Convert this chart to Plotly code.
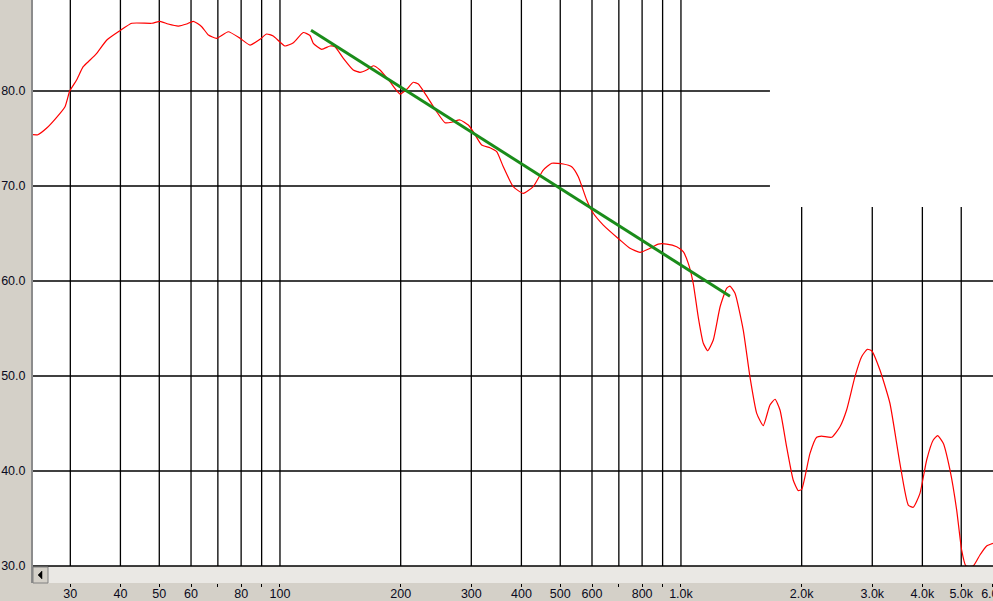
import plotly.graph_objects as go

# ---- data ----
freq = [24.2, 24.9, 26.2, 27.7, 29.1, 29.9, 31.1, 32.3, 33.6, 34.9,
        37.0, 39.9, 42.7, 47.9, 50.2, 52.6, 55.8, 58.5, 60.8, 63.8,
        66.3, 69.5, 74.3, 79.5, 84.2, 89.2, 92.6, 96.2, 102.9, 108.0,
        114.3, 118.8, 121.1, 127.1, 133.3, 137.1, 143.9, 152.3, 158.3, 164.5,
        170.9, 177.6, 188.0, 199.3, 207.0, 215.0, 221.3, 229.9, 245.9, 258.0,
        268.1, 281.2, 294.9, 303.4, 318.4, 334.0, 347.1, 360.5, 381.7, 404.3,
        428.1, 453.5, 476.0, 508.7, 533.9, 554.6, 582.0, 604.5, 640.2, 704.6,
        746.2, 790.4, 837.0, 877.9, 921.1, 975.6, 1013, 1043, 1073, 1104,
        1137, 1166, 1204, 1252, 1300, 1325, 1364, 1430, 1486, 1545,
        1604, 1667, 1716, 1766, 1834, 1905, 1961, 2000, 2098, 2180,
        2243, 2375, 2492, 2589, 2716, 2822, 2915, 2990, 3135, 3320,
        3516, 3689, 3796, 3945, 4100, 4258, 4367, 4510, 4687, 4871,
        5012, 5137, 5357, 5567, 5785, 5998]
level_db = [75.4, 75.4, 76.1, 77.2, 78.35, 80.0, 81.16, 82.56, 83.26, 83.97,
            85.37, 86.35, 87.13, 87.13, 87.34, 87.05, 86.84, 87.05, 87.34, 86.77,
            85.89, 85.55, 86.24, 85.55, 84.84, 85.44, 86.0, 85.79, 84.74, 85.08,
            86.16, 85.84, 85.02, 84.39, 84.74, 84.66, 83.44, 82.21, 81.97, 82.21,
            82.66, 82.21, 80.98, 79.68, 80.18, 80.92, 80.74, 79.76, 77.82, 76.66,
            76.71, 76.95, 76.42, 75.72, 74.32, 74.03, 73.61, 72.03, 69.93, 69.23,
            69.93, 71.68, 72.39, 72.32, 72.03, 70.98, 68.53, 67.13, 65.89, 64.32,
            63.44, 63.02, 63.44, 63.89, 63.89, 63.61, 63.08, 61.86, 59.76, 56.24,
            53.44, 52.66, 53.79, 57.29, 59.23, 59.47, 58.71, 54.84, 49.93, 46.07,
            44.77, 46.95, 47.55, 46.42, 42.56, 39.05, 37.93, 38.07, 41.86, 43.55,
            43.68, 43.55, 44.66, 46.42, 49.93, 52.03, 52.81, 52.66, 50.63, 47.13,
            40.81, 36.42, 36.18, 37.65, 41.16, 43.26, 43.72, 42.92, 40.11, 35.89,
            31.68, 30.0, 30.0, 31.16, 32.11, 32.39]

fit_freq = [119.5, 1325]
fit_db = [86.4, 58.4]

grid_full_freqs = [30, 40, 50, 60, 70, 80, 90, 100, 200, 300, 400, 500,
                   600, 700, 800, 900, 1000]
grid_part_freqs = [2000, 3000, 4000, 5000]
x_tick_vals = grid_full_freqs + grid_part_freqs + [6000]
x_tick_text = ["30", "40", "50", "60", "", "80", "", "100", "200", "300",
               "400", "500", "600", "", "800", "", "1.0k", "2.0k", "3.0k",
               "4.0k", "5.0k", "6.0k"]
y_tick_vals = [30, 40, 50, 60, 70, 80]
y_tick_text = ["30.0", "40.0", "50.0", "60.0", "70.0", "80.0"]
grid_full_levels = [40, 50, 60]
grid_part_levels = [70, 80]
part_x_limit = 1667
part_y_limit = 67.8

X_RANGE = [1.38404, 3.7782]
Y_RANGE = [28.21, 89.58]

BG = "#D4D0C8"
TXT = "#0A0A20"

fig = go.Figure()
fig.add_trace(go.Scatter(x=freq, y=level_db, mode="lines",
                         line=dict(color="#FF0000", width=1.2, shape="spline", smoothing=0.5),
                         hoverinfo="skip", showlegend=False))
fig.add_trace(go.Scatter(x=fit_freq, y=fit_db, mode="lines",
                         line=dict(color="#1A8C1A", width=3),
                         hoverinfo="skip", showlegend=False))

shapes = []
ln = dict(color="black", width=1.3)
for f in grid_full_freqs:
    shapes.append(dict(type="line", xref="x", yref="y", x0=f, x1=f,
                       y0=30, y1=Y_RANGE[1], line=ln, layer="below"))
for f in grid_part_freqs:
    shapes.append(dict(type="line", xref="x", yref="y", x0=f, x1=f,
                       y0=30, y1=part_y_limit, line=ln, layer="below"))
for v in grid_full_levels:
    shapes.append(dict(type="line", xref="paper", yref="y", x0=0, x1=1,
                       y0=v, y1=v, line=ln, layer="below"))
for v in grid_part_levels:
    shapes.append(dict(type="line", xref="x", yref="y", x0=10 ** X_RANGE[0],
                       x1=part_x_limit, y0=v, y1=v, line=ln, layer="below"))
# scroll strip
shapes.append(dict(type="rect", xref="paper", yref="y", x0=0, x1=1,
                   y0=Y_RANGE[0], y1=30, fillcolor="#EAE8E4",
                   line=dict(width=0), layer="above"))
shapes.append(dict(type="line", xref="paper", yref="y", x0=0, x1=1,
                   y0=30, y1=30, line=ln, layer="above"))
# scroll button (pixel-like paper coords: plot is 960 x 583 px)
pw, ph = 960.0, 583.0
bx0, bx1, by0, by1 = 0 / pw, 15 / pw, 0 / ph, 16 / ph
shapes.append(dict(type="rect", xref="paper", yref="paper", x0=bx0, x1=bx1,
                   y0=by0, y1=by1, fillcolor=BG, line=dict(color="#808080", width=1),
                   layer="above"))
shapes.append(dict(type="path", xref="paper", yref="paper",
                   path=f"M {5/pw} {8/ph} L {9/pw} {12/ph} L {9/pw} {4/ph} Z",
                   fillcolor="black", line=dict(color="black", width=0.5), layer="above"))

fig.update_layout(
    width=993, height=601,
    margin=dict(l=33, r=0, t=0, b=18, autoexpand=False),
    paper_bgcolor=BG, plot_bgcolor="white",
    font=dict(family="Liberation Sans, Arial, sans-serif", size=12, color=TXT),
    shapes=shapes,
    showlegend=False,
    xaxis=dict(type="log", range=X_RANGE, showgrid=False, zeroline=False,
               showline=False, tickmode="array", tickvals=x_tick_vals,
               ticktext=x_tick_text, ticks="outside", ticklen=3, tickcolor="black",
               tickwidth=1, ticklabelstandoff=-4, ticklabeloverflow="allow",
               tickfont=dict(size=12.5, color=TXT),
               automargin=False, fixedrange=True),
    yaxis=dict(range=Y_RANGE, showgrid=False, zeroline=False,
               showline=True, linecolor="#8C8C8C", linewidth=2,
               tickmode="array", tickvals=y_tick_vals, ticktext=y_tick_text,
               tickfont=dict(size=12.5, color=TXT),
               ticks="", ticklabelstandoff=3, automargin=False, fixedrange=True),
    annotations=[dict(xref="paper", yref="y", x=0, y=90, text="90.0",
                      showarrow=False, xanchor="right", yanchor="middle",
                      xshift=-5, font=dict(size=12.5, color=TXT))],
)

fig.write_html("out.html", config={"displayModeBar": False},
               post_script="document.body.style.margin='0';document.body.style.overflow='hidden';")
